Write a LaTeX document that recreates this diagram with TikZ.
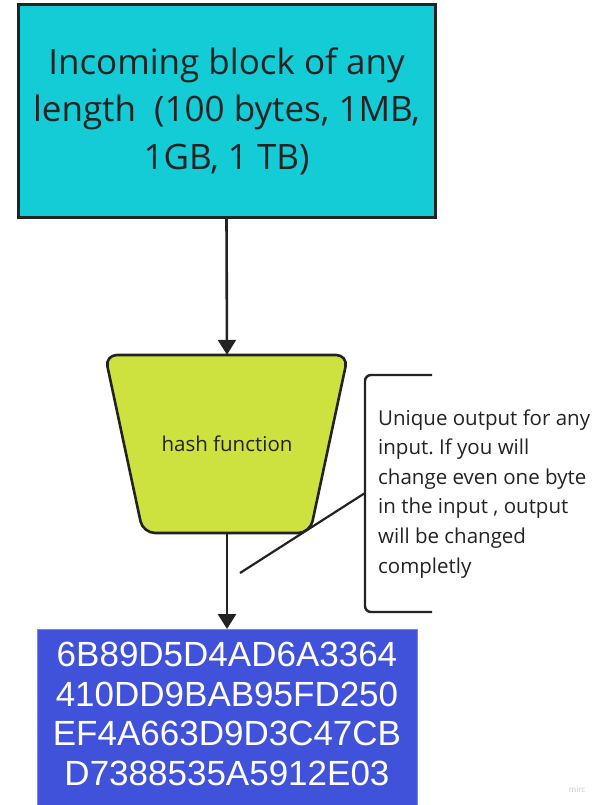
\documentclass[tikz,border=0pt]{standalone}
\usepackage{fontspec}
\setmainfont{Open Sans}
\newfontfamily\hexfont{Liberation Sans}
\usetikzlibrary{arrows.meta}
\frenchspacing

\definecolor{inCyan}{HTML}{13CCD5}
\definecolor{hashLime}{HTML}{CEE23F}
\definecolor{outBlue}{HTML}{4052D9}
\definecolor{ink}{HTML}{232323}

\tikzset{
  blockbox/.style={draw=ink, line width=3pt, fill=inCyan, inner sep=0pt,
    minimum width=417pt, minimum height=212pt, align=center,
    font=\fontsize{35}{47.5}\selectfont, text=ink},
  hashbody/.style={draw=ink, line width=2.6pt, fill=hashLime, rounded corners=12pt},
  hashlabel/.style={inner sep=0pt, minimum width=243pt, minimum height=178pt,
    font=\fontsize{20.5}{24}\selectfont, text=ink},
  digestbox/.style={fill=outBlue, draw=outBlue!70!white, line width=0.6pt, inner sep=0pt,
    minimum width=380pt, minimum height=186pt, anchor=north, text=white},
  flow/.style={draw=ink, line width=2.6pt, -{Triangle[width=18pt,length=15pt]}},
  bracket/.style={draw=ink, line width=2.4pt, rounded corners=6pt},
  note/.style={inner sep=0pt, anchor=base west, align=left, text=ink,
    font=\fontsize{20.5}{29.6}\selectfont},
  pointer/.style={draw=ink, line width=2.2pt}
}

\begin{document}
\begin{tikzpicture}[x=1pt, y=-1pt]
  \useasboundingbox (0,0) rectangle (597,805);
  \fill[white] (0,0) rectangle (597,805);

  % incoming data block
  \node[blockbox] (block) at (226.5,111)
    {Incoming block of any\\length~ (100 bytes, 1MB,\\1GB, 1 TB)};

  % hash function trapezium
  \path[hashbody] (105,355) -- (348,355) -- (310,533) -- (143,533) -- cycle;
  \node[hashlabel] (hash) at (227,444) {hash function};

  % resulting digest
  \begin{scope}
    \clip (0,0) rectangle (597,805);
    \node[digestbox] (digest) at (227,629) {};
  \end{scope}
  % anchor=base sits on the last line of a multi-line node
  \node[text=white, font=\hexfont\fontsize{35}{39.4}\selectfont, align=center,
        inner sep=0pt, anchor=base] (hex) at (227,785)
    {6B89D5D4AD6A3364\\410DD9BAB95FD250\\EF4A663D9D3C47CB\\D7388535A5912E03};

  % flow arrows
  \draw[flow] (block.south) -- (hash.north);
  \draw[flow] (hash.south) -- (digest.north);

  % annotation with bracket
  \coordinate (brtop) at (432,375);
  \coordinate (brbot) at (432,612);
  \coordinate (brmid) at (365,493);
  \coordinate (tail) at (240,573);
  \draw[bracket] (brtop) -- (365,375) -- (365,612) -- (brbot);
  \draw[pointer] (brmid) -- (tail);
  \node[note] (remark) at (378,573)
    {Unique output for any\\input. If you will\\change even one byte\\in the input , output\\will be changed\\completly};

  % watermark
  \node[text=black!22, font=\fontsize{8}{9}\selectfont, inner sep=0pt] (mark) at (577,790) {mirc};
\end{tikzpicture}
\end{document}
